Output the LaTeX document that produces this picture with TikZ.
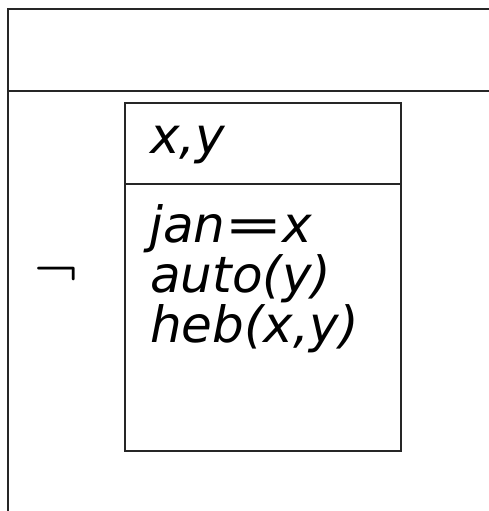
\documentclass[tikz,border=0pt]{standalone}
\usepackage{fontspec}
\usepackage{graphicx}
\newfontfamily\dejavu{DejaVu Sans}
\newfontfamily\lmroman{Latin Modern Roman}
\newcommand{\wideeq}{\kern-1pt\scalebox{1.4}[1]{\upshape=}\kern-1pt}
\begin{document}
\begin{tikzpicture}[x=1pt,y=1pt,
  frame/.style={line width=1.6pt, draw=black!85},
  lbl/.style={anchor=base west, inner sep=0pt, font=\fontsize{50}{50}\selectfont\dejavu\itshape}]
\useasboundingbox (0,0) rectangle (488,511);
% outer frame
\coordinate (tl) at (8,502);
\coordinate (tr) at (489,502);
\coordinate (bl) at (8,0);
\coordinate (ml) at (8,420);
\coordinate (mr) at (489,420);
\draw[frame] (tr) -- (tl) -- (bl);
\draw[frame] (ml) -- (mr);
% inner box
\node[frame, draw, minimum width=276pt, minimum height=348pt, anchor=north west, inner sep=0pt] (box) at (124,409) {};
\coordinate (sl) at (124,327);
\coordinate (sr) at (400,327);
\draw[frame] (sl) -- (sr);
% texts
\node[lbl] (xy) at (150,357) {x,y};
\node[lbl] (l1) at (149,268) {jan\wideeq x};
\node[lbl] (l2) at (150,218) {auto(y)};
\node[lbl] (l3) at (150,168) {heb(x,y)};
% negation
\node[inner sep=0pt, font=\fontsize{50}{50}\selectfont\lmroman\bfseries] (neg) at (56,234) {¬};
\end{tikzpicture}
\end{document}
